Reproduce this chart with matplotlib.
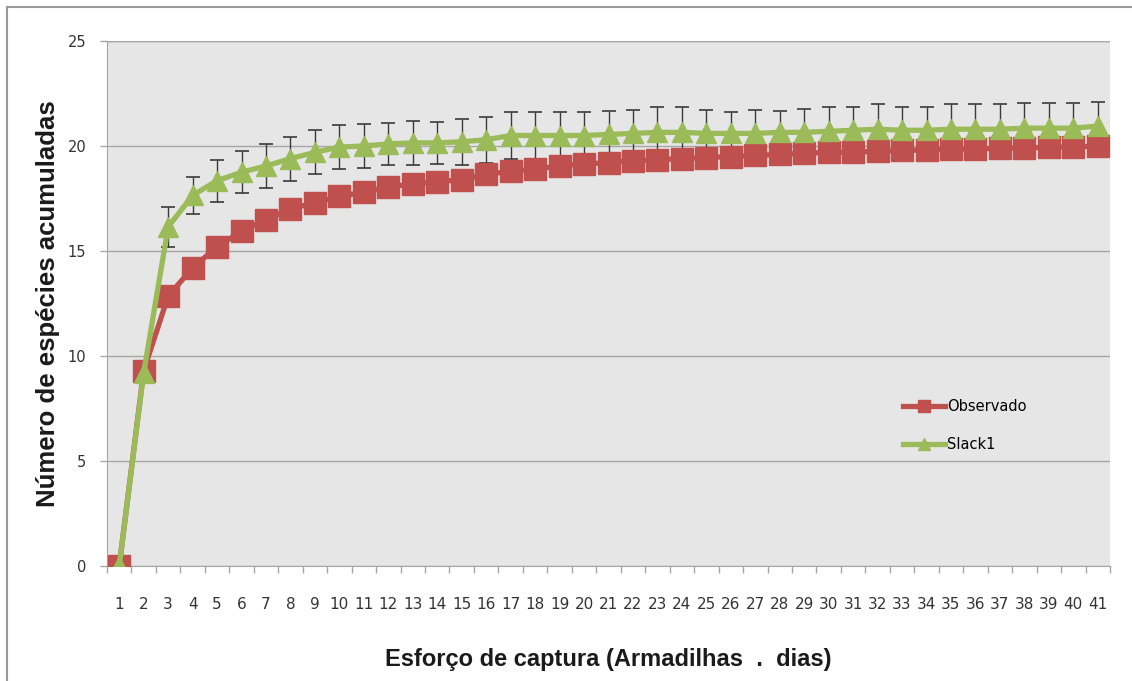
import numpy as np
import matplotlib
matplotlib.use("Agg")
from matplotlib import pyplot as plt
from matplotlib.lines import Line2D

# accumulated species per sampling effort (traps x days)
effort = list(range(1, 42))
observado = [0, 9.3, 12.85, 14.2, 15.2, 15.95, 16.5, 17.0, 17.3, 17.6, 17.8,
             18.05, 18.2, 18.3, 18.4, 18.65, 18.8, 18.9, 19.05, 19.15, 19.2,
             19.3, 19.35, 19.4, 19.45, 19.5, 19.55, 19.6, 19.65, 19.7, 19.7,
             19.75, 19.8, 19.8, 19.85, 19.85, 19.9, 19.9, 19.95, 19.95, 20.0]
jack1 = [0, 9.2, 16.15, 17.65, 18.35, 18.75, 19.05, 19.4, 19.7, 19.95, 20.0,
         20.1, 20.15, 20.15, 20.2, 20.3, 20.5, 20.5, 20.5, 20.5, 20.55,
         20.6, 20.65, 20.65, 20.6, 20.6, 20.6, 20.65, 20.65, 20.7, 20.75,
         20.8, 20.75, 20.75, 20.8, 20.8, 20.8, 20.85, 20.85, 20.85, 20.95]
jack1_sd = [0, 0, 0.95, 0.88, 1.0, 1.0, 1.05, 1.05, 1.05, 1.05, 1.05,
            1.0, 1.05, 1.0, 1.1, 1.1, 1.1, 1.1, 1.1, 1.1, 1.1,
            1.1, 1.2, 1.2, 1.1, 1.0, 1.1, 1.0, 1.1, 1.15, 1.1,
            1.2, 1.1, 1.1, 1.2, 1.2, 1.2, 1.2, 1.2, 1.2, 1.15]

RED = "#c0504d"
GREEN = "#9bbb59"
GRID = "#a6a6a6"

fig = plt.figure(figsize=(11.32, 6.81), dpi=100)
ax = fig.add_axes([107 / 1132, 1 - 566 / 681, 1003 / 1132, 525 / 681])
ax.set_facecolor("#e6e6e6")

x = np.array(effort)
ax.errorbar(x, jack1, yerr=jack1_sd, fmt="none", ecolor="#3a3a3a",
            elinewidth=1.0, capsize=5, capthick=1.2, zorder=2)
ax.plot(x, observado, color=RED, lw=3.8, marker="s", ms=15.5,
        label="Observado", zorder=3)
ax.plot(x, jack1, color=GREEN, lw=3.8, marker="^", ms=15,
        label="Slack1", zorder=4)

ax.set_xlim(0.5, 41.5)
ax.set_ylim(0, 25)
ax.set_yticks([0, 5, 10, 15, 20, 25])
ax.set_xticks(x)
ax.set_xticks(np.arange(0.5, 42, 1), minor=True)
ax.tick_params(axis="x", which="major", length=0, pad=22,
               labelsize=11, labelcolor="#333333")
ax.tick_params(axis="x", which="minor", length=5, width=1, color=GRID,
               direction="out")
ax.tick_params(axis="y", length=5, width=1, color=GRID, pad=10,
               labelsize=10.5, labelcolor="#333333")

ax.grid(axis="y", color=GRID, lw=1)
ax.set_axisbelow(True)
for side in ("top", "right"):
    ax.spines[side].set_visible(False)
for side in ("left", "bottom"):
    ax.spines[side].set_color(GRID)
ax.axhline(25, color=GRID, lw=1, zorder=1)

ax.set_xlabel("Esforço de captura (Armadilhas  .  dias)", fontsize=17,
              fontweight="bold", family="Liberation Sans", color="#1a1a1a",
              labelpad=26)
ax.set_ylabel("Número de espécies acumuladas", fontsize=18.5,
              fontweight="bold", family="Liberation Sans", color="#1a1a1a",
              labelpad=5)

ax.legend(loc="center left", bbox_to_anchor=(0.7936, 0.267), frameon=False,
          fontsize=10.5, handlelength=2.9, handletextpad=0.1,
          labelspacing=1.6, markerscale=0.6, borderpad=0, borderaxespad=0)

# thin frame around the chart area
fig.add_artist(Line2D([7 / 1132, 7 / 1132], [0, 1 - 7 / 681],
                      transform=fig.transFigure, color="#9a9a9a", lw=1.5))
fig.add_artist(Line2D([7 / 1132, 1], [1 - 7 / 681, 1 - 7 / 681],
                      transform=fig.transFigure, color="#9a9a9a", lw=1.5))

fig.savefig("out.png", dpi=100)
